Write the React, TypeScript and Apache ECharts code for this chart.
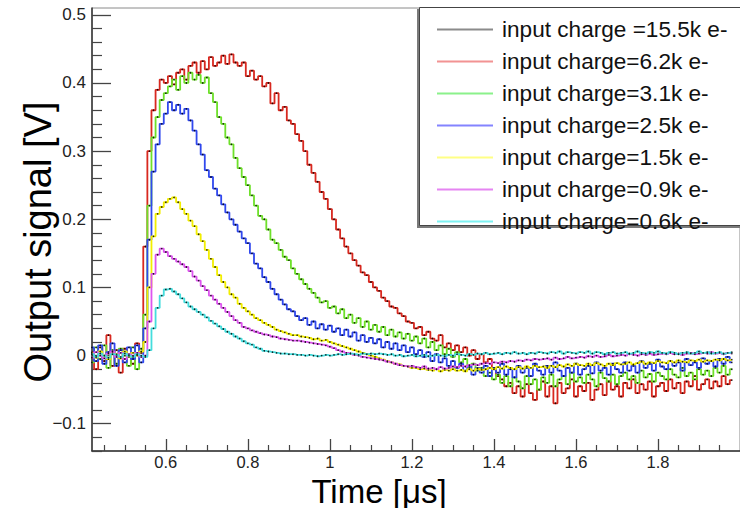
import React, { useEffect, useRef } from "react";
import * as echarts from "echarts";

// Sample times [µs]
const times = [
  0.42, 0.43, 0.44, 0.45, 0.46, 0.47, 0.48, 0.49, 0.5, 0.51,
  0.52, 0.53, 0.54, 0.55, 0.56, 0.57, 0.58, 0.59, 0.6, 0.61,
  0.62, 0.63, 0.64, 0.65, 0.66, 0.67, 0.68, 0.69, 0.7, 0.71,
  0.72, 0.73, 0.74, 0.75, 0.76, 0.77, 0.78, 0.79, 0.8, 0.81,
  0.82, 0.83, 0.84, 0.85, 0.86, 0.87, 0.88, 0.89, 0.9, 0.91,
  0.92, 0.93, 0.94, 0.95, 0.96, 0.97, 0.98, 0.99, 1.0, 1.01,
  1.02, 1.03, 1.04, 1.05, 1.06, 1.07, 1.08, 1.09, 1.1, 1.11,
  1.12, 1.13, 1.14, 1.15, 1.16, 1.17, 1.18, 1.19, 1.2, 1.21,
  1.22, 1.23, 1.24, 1.25, 1.26, 1.27, 1.28, 1.29, 1.3, 1.31,
  1.32, 1.33, 1.34, 1.35, 1.36, 1.37, 1.38, 1.39, 1.4, 1.41,
  1.42, 1.43, 1.44, 1.45, 1.46, 1.47, 1.48, 1.49, 1.5, 1.51,
  1.52, 1.53, 1.54, 1.55, 1.56, 1.57, 1.58, 1.59, 1.6, 1.61,
  1.62, 1.63, 1.64, 1.65, 1.66, 1.67, 1.68, 1.69, 1.7, 1.71,
  1.72, 1.73, 1.74, 1.75, 1.76, 1.77, 1.78, 1.79, 1.8, 1.81,
  1.82, 1.83, 1.84, 1.85, 1.86, 1.87, 1.88, 1.89, 1.9, 1.91,
  1.92, 1.93, 1.94, 1.95, 1.96, 1.97, 1.98,
];

const q15_5k: number[] = [];

const q6_2k = [
  0.005, -0.02, 0.012, -0.008, 0.03, -0.015, 0.008, -0.025, 0.01, 0.0,
  -0.012, 0.018, 0.004, 0.16, 0.30, 0.36, 0.39, 0.405, 0.40, 0.41,
  0.398, 0.415, 0.42, 0.405, 0.425, 0.43, 0.415, 0.432, 0.42, 0.438,
  0.425, 0.43, 0.44, 0.428, 0.442, 0.43, 0.425, 0.43, 0.41, 0.418,
  0.405, 0.41, 0.395, 0.40, 0.37, 0.385, 0.36, 0.365, 0.345, 0.34,
  0.325, 0.315, 0.30, 0.28, 0.268, 0.255, 0.24, 0.23, 0.215, 0.2,
  0.185, 0.172, 0.16, 0.15, 0.14, 0.132, 0.122, 0.118, 0.108, 0.1,
  0.095, 0.085, 0.08, 0.072, 0.07, 0.062, 0.058, 0.05, 0.048, 0.04,
  0.042, 0.03, 0.035, 0.025, 0.022, 0.03, 0.012, 0.018, 0.008, 0.015,
  0.005, 0.012, 0.0, 0.008, -0.005, 0.002, -0.01, -0.005, -0.02, -0.03,
  -0.035, -0.045, -0.04, -0.055, -0.045, -0.06, -0.042, -0.055, -0.065, -0.05,
  -0.038, -0.06, -0.045, -0.07, -0.04, -0.055, -0.048, -0.035, -0.06, -0.045,
  -0.052, -0.04, -0.065, -0.05, -0.042, -0.058, -0.038, -0.05, -0.045, -0.06,
  -0.04, -0.048, -0.035, -0.055, -0.042, -0.05, -0.038, -0.06, -0.045, -0.04,
  -0.052, -0.035, -0.048, -0.04, -0.055, -0.038, -0.045, -0.03, -0.05, -0.042,
  -0.035, -0.048, -0.038, -0.045, -0.03, -0.042, -0.036,
];

const q3_1k = [
  -0.01, 0.012, -0.005, 0.015, -0.018, 0.008, -0.012, 0.01, 0.0, -0.015,
  0.012, -0.02, 0.01, 0.06, 0.22, 0.32, 0.35, 0.375, 0.385, 0.395,
  0.405, 0.39, 0.41, 0.40, 0.415, 0.405, 0.412, 0.40, 0.408, 0.385,
  0.372, 0.35, 0.34, 0.32, 0.31, 0.29, 0.275, 0.262, 0.25, 0.235,
  0.22, 0.205, 0.2, 0.185, 0.17, 0.165, 0.155, 0.145, 0.14, 0.128,
  0.12, 0.112, 0.105, 0.098, 0.092, 0.085, 0.078, 0.08, 0.07, 0.072,
  0.062, 0.068, 0.055, 0.06, 0.048, 0.055, 0.042, 0.05, 0.038, 0.045,
  0.035, 0.042, 0.03, 0.038, 0.028, 0.034, 0.025, 0.032, 0.022, 0.028,
  0.018, 0.025, 0.012, 0.02, 0.008, 0.015, 0.002, 0.01, -0.002, 0.005,
  -0.01, -0.005, -0.018, -0.012, -0.022, -0.018, -0.03, -0.025, -0.035, -0.028,
  -0.04, -0.03, -0.045, -0.032, -0.038, -0.048, -0.03, -0.042, -0.035, -0.05,
  -0.032, -0.04, -0.028, -0.045, -0.035, -0.03, -0.042, -0.025, -0.038, -0.032,
  -0.04, -0.028, -0.035, -0.045, -0.025, -0.033, -0.038, -0.028, -0.042, -0.03,
  -0.025, -0.035, -0.03, -0.04, -0.022, -0.032, -0.027, -0.038, -0.025, -0.03,
  -0.035, -0.02, -0.028, -0.032, -0.018, -0.03, -0.025, -0.035, -0.02, -0.028,
  -0.022, -0.03, -0.018, -0.025, -0.015, -0.028, -0.02,
];

const q2_5k = [
  0.012, -0.008, 0.015, -0.012, 0.005, 0.018, -0.015, 0.008, -0.01, 0.012,
  -0.005, 0.015, -0.01, 0.04, 0.17, 0.27, 0.31, 0.34, 0.355, 0.372,
  0.36, 0.368, 0.355, 0.362, 0.345, 0.33, 0.31, 0.295, 0.272, 0.262,
  0.245, 0.235, 0.222, 0.21, 0.2, 0.192, 0.182, 0.172, 0.165, 0.15,
  0.135, 0.128, 0.115, 0.108, 0.098, 0.09, 0.082, 0.075, 0.068, 0.065,
  0.058, 0.052, 0.055, 0.045, 0.05, 0.04, 0.046, 0.038, 0.044, 0.035,
  0.04, 0.03, 0.038, 0.028, 0.034, 0.022, 0.03, 0.02, 0.026, 0.018,
  0.024, 0.012, 0.02, 0.01, 0.018, 0.008, 0.015, 0.005, 0.012, 0.002,
  0.008, -0.002, 0.005, -0.008, 0.002, -0.01, -0.004, -0.015, -0.008, -0.018,
  -0.012, -0.022, -0.015, -0.028, -0.018, -0.025, -0.015, -0.03, -0.018, -0.025,
  -0.012, -0.028, -0.02, -0.032, -0.015, -0.025, -0.018, -0.03, -0.012, -0.022,
  -0.028, -0.015, -0.025, -0.01, -0.022, -0.03, -0.018, -0.025, -0.012, -0.028,
  -0.02, -0.015, -0.026, -0.01, -0.022, -0.018, -0.028, -0.012, -0.02, -0.025,
  -0.01, -0.022, -0.015, -0.025, -0.008, -0.018, -0.012, -0.022, -0.006, -0.016,
  -0.02, -0.008, -0.015, -0.01, -0.022, -0.005, -0.014, -0.01, -0.018, -0.004,
  -0.012, -0.008, -0.016, -0.005, -0.012, -0.002, -0.01,
];

const q1_5k = [
  0.004, -0.003, 0.006, 0.0, -0.005, 0.005, 0.002, -0.004, 0.006, -0.002,
  0.004, 0.0, 0.006, 0.02, 0.1, 0.175, 0.208, 0.218, 0.225, 0.23,
  0.232, 0.225, 0.215, 0.208, 0.198, 0.19, 0.178, 0.168, 0.155, 0.142,
  0.13, 0.118, 0.108, 0.1, 0.09, 0.085, 0.076, 0.07, 0.065, 0.06,
  0.055, 0.052, 0.048, 0.045, 0.042, 0.038, 0.036, 0.034, 0.032, 0.03,
  0.03, 0.028, 0.027, 0.026, 0.024, 0.025, 0.022, 0.023, 0.02, 0.018,
  0.016, 0.014, 0.012, 0.01, 0.008, 0.006, 0.004, 0.002, 0.0, -0.002,
  -0.004, -0.006, -0.008, -0.01, -0.012, -0.013, -0.015, -0.016, -0.018, -0.018,
  -0.02, -0.019, -0.021, -0.022, -0.02, -0.023, -0.021, -0.022, -0.02, -0.022,
  -0.021, -0.023, -0.02, -0.022, -0.019, -0.021, -0.02, -0.018, -0.02, -0.017,
  -0.019, -0.016, -0.018, -0.02, -0.017, -0.019, -0.016, -0.018, -0.015, -0.017,
  -0.016, -0.018, -0.015, -0.017, -0.014, -0.016, -0.013, -0.015, -0.012, -0.014,
  -0.015, -0.012, -0.014, -0.011, -0.013, -0.015, -0.012, -0.014, -0.011, -0.013,
  -0.012, -0.01, -0.013, -0.011, -0.009, -0.012, -0.01, -0.011, -0.008, -0.01,
  -0.011, -0.008, -0.01, -0.007, -0.009, -0.01, -0.007, -0.008, -0.006, -0.009,
  -0.007, -0.008, -0.006, -0.007, -0.005, -0.007, -0.006,
];

const q0_9k = [
  -0.003, 0.005, 0.0, -0.004, 0.003, 0.006, -0.002, 0.004, -0.005, 0.002,
  0.0, 0.004, -0.002, 0.0, 0.05, 0.12, 0.148, 0.157, 0.152, 0.146,
  0.142, 0.138, 0.134, 0.13, 0.124, 0.116, 0.11, 0.102, 0.096, 0.088,
  0.082, 0.076, 0.07, 0.064, 0.058, 0.052, 0.048, 0.042, 0.04, 0.037,
  0.035, 0.033, 0.031, 0.03, 0.028, 0.027, 0.025, 0.024, 0.023, 0.022,
  0.022, 0.021, 0.02, 0.019, 0.018, 0.017, 0.016, 0.015, 0.013, 0.011,
  0.008, 0.006, 0.004, 0.003, 0.001, 0.0, -0.002, -0.003, -0.004, -0.005,
  -0.006, -0.007, -0.009, -0.01, -0.012, -0.014, -0.015, -0.016, -0.015, -0.017,
  -0.018, -0.016, -0.019, -0.018, -0.02, -0.017, -0.019, -0.018, -0.016, -0.017,
  -0.015, -0.016, -0.014, -0.013, -0.014, -0.012, -0.011, -0.012, -0.01, -0.011,
  -0.009, -0.01, -0.008, -0.009, -0.007, -0.008, -0.006, -0.007, -0.005, -0.006,
  -0.005, -0.004, -0.006, -0.003, -0.005, -0.004, -0.002, -0.004, -0.003, -0.002,
  -0.003, -0.001, -0.002, 0.0, -0.002, -0.001, 0.001, -0.001, 0.0, 0.001,
  0.0, 0.002, 0.001, 0.0, 0.002, 0.001, 0.003, 0.001, 0.002, 0.003,
  0.002, 0.004, 0.002, 0.003, 0.001, 0.003, 0.004, 0.002, 0.003, 0.004,
  0.003, 0.005, 0.003, 0.004, 0.002, 0.004, 0.003,
];

const q0_6k = [
  0.002, -0.002, 0.003, 0.0, -0.003, 0.002, 0.001, -0.002, 0.003, 0.0,
  -0.002, 0.002, 0.0, -0.002, 0.008, 0.04, 0.07, 0.088, 0.097, 0.098,
  0.094, 0.09, 0.084, 0.078, 0.072, 0.068, 0.064, 0.06, 0.056, 0.051,
  0.047, 0.043, 0.039, 0.035, 0.032, 0.028, 0.025, 0.021, 0.018, 0.016,
  0.012, 0.01, 0.007, 0.006, 0.005, 0.004, 0.003, 0.003, 0.002, 0.002,
  0.001, 0.001, 0.0, 0.001, 0.0, -0.001, 0.0, 0.001, 0.0, 0.001,
  0.002, 0.001, 0.002, 0.003, 0.002, 0.001, 0.003, 0.002, 0.003, 0.002,
  0.003, 0.002, 0.001, 0.002, 0.0, 0.001, -0.001, 0.0, 0.001, -0.001,
  0.0, 0.001, -0.001, 0.0, 0.001, 0.0, -0.001, 0.001, 0.0, 0.002,
  0.001, 0.0, 0.002, 0.001, 0.003, 0.002, 0.004, 0.002, 0.003, 0.004,
  0.002, 0.004, 0.003, 0.005, 0.003, 0.004, 0.002, 0.004, 0.003, 0.005,
  0.004, 0.003, 0.005, 0.004, 0.006, 0.003, 0.005, 0.004, 0.003, 0.005,
  0.004, 0.006, 0.003, 0.005, 0.004, 0.002, 0.004, 0.005, 0.003, 0.004,
  0.005, 0.003, 0.004, 0.006, 0.004, 0.003, 0.005, 0.004, 0.006, 0.004,
  0.003, 0.005, 0.004, 0.002, 0.004, 0.005, 0.003, 0.004, 0.006, 0.004,
  0.005, 0.003, 0.004, 0.005, 0.003, 0.004, 0.005,
];

const seriesNames = [
  "input charge =15.5k e-",
  "input charge=6.2k e-",
  "input charge=3.1k e-",
  "input charge=2.5k e-",
  "input charge=1.5k e-",
  "input charge=0.9k e-",
  "input charge=0.6k e-",
];
const seriesValues = [q15_5k, q6_2k, q3_1k, q2_5k, q1_5k, q0_9k, q0_6k];
const lineColors = ["#333333", "#d8281f", "#6ee02a", "#3048ee", "#f2ee00", "#dd55ee", "#44dddd"];
const legendColors = ["#777777", "#f08080", "#77ee77", "#6f6fff", "#ffff70", "#e070f0", "#66f0f0"];

const xMajorTicks = [0.6, 0.8, 1.0, 1.2, 1.4, 1.6, 1.8];
const xMinorTicks = [
  0.45, 0.5, 0.55, 0.65, 0.7, 0.75, 0.85, 0.9, 0.95, 1.05, 1.1, 1.15,
  1.25, 1.3, 1.35, 1.45, 1.5, 1.55, 1.65, 1.7, 1.75, 1.85, 1.9, 1.95,
];
const yMajorTicks = [-0.1, 0, 0.1, 0.2, 0.3, 0.4, 0.5];
const yMinorTicks = [
  -0.14, -0.12, -0.08, -0.06, -0.04, -0.02, 0.02, 0.04, 0.06, 0.08,
  0.12, 0.14, 0.16, 0.18, 0.22, 0.24, 0.26, 0.28, 0.32, 0.34, 0.36, 0.38,
  0.42, 0.44, 0.46, 0.48,
];

const FONT = "'Liberation Sans', Arial, Helvetica, sans-serif";

const fmt = (v: number) => {
  const n = Number(v.toFixed(2));
  if (n === 0) return "0";
  return n < 0 ? "\u2212" + String(Math.abs(n)) : String(n);
};

export default function App() {
  const ref = useRef<HTMLDivElement>(null);
  useEffect(() => {
    if (!ref.current) return;
    const chart = echarts.init(ref.current, null, { renderer: "svg" });
    const axisLine = { show: true, onZero: false, lineStyle: { color: "#333", width: 1.5 } };
    const option = {
      animation: false,
      backgroundColor: "#ffffff",
      grid: {
        left: 92,
        top: 8,
        right: -7.7,
        bottom: 57,
        show: true,
        borderColor: "#8a8a8a",
        borderWidth: 1,
        backgroundColor: "transparent",
      },
      xAxis: [
        {
          type: "value",
          min: 0.42,
          max: 2.0,
          position: "bottom",
          axisLine,
          splitLine: { show: false },
          axisTick: {
            show: true,
            inside: true,
            length: 12,
            customValues: xMajorTicks,
            lineStyle: { color: "#444", width: 1.3 },
          },
          axisLabel: {
            customValues: xMajorTicks,
            formatter: fmt,
            fontFamily: FONT,
            fontSize: 16.5,
            lineHeight: 16,
            color: "#222",
            margin: 3,
          },
        },
        {
          type: "value",
          min: 0.42,
          max: 2.0,
          position: "bottom",
          axisLine: { show: false, onZero: false },
          splitLine: { show: false },
          axisTick: {
            show: true,
            inside: true,
            length: 6,
            customValues: xMinorTicks,
            lineStyle: { color: "#444", width: 1.2 },
          },
          axisLabel: { show: false },
        },
      ],
      yAxis: [
        {
          type: "value",
          min: -0.14,
          max: 0.51,
          position: "left",
          axisLine,
          splitLine: { show: false },
          axisTick: {
            show: true,
            inside: true,
            length: 19,
            customValues: yMajorTicks,
            lineStyle: { color: "#444", width: 1.3 },
          },
          axisLabel: {
            customValues: yMajorTicks,
            formatter: fmt,
            fontFamily: FONT,
            fontSize: 17,
            color: "#222",
            margin: 6,
          },
        },
        {
          type: "value",
          min: -0.14,
          max: 0.51,
          position: "left",
          axisLine: { show: false, onZero: false },
          splitLine: { show: false },
          axisTick: {
            show: true,
            inside: true,
            length: 10,
            customValues: yMinorTicks,
            lineStyle: { color: "#444", width: 1.2 },
          },
          axisLabel: { show: false },
        },
      ],
      legend: {
        orient: "vertical",
        left: 432,
        top: 13,
        z: 30,
        selectedMode: false,
        itemWidth: 56,
        itemHeight: 2,
        itemGap: 9,
        icon: "rect",
        textStyle: {
          fontFamily: FONT,
          fontSize: 22.6,
          lineHeight: 23,
          color: "#111",
          padding: [0, 0, 0, 4],
        },
        data: seriesNames.map((name, i) => ({
          name,
          icon: "rect",
          itemStyle: { color: legendColors[i] },
        })),
      },
      graphic: [
        {
          type: "rect",
          z: 20,
          shape: { x: 417, y: 9, width: 340, height: 219 },
          style: { fill: "#7a7a7a" },
        },
        {
          type: "rect",
          z: 21,
          shape: { x: 419.5, y: 7.5, width: 340, height: 218 },
          style: { fill: "#ffffff", stroke: "#444", lineWidth: 1 },
        },
        {
          type: "text",
          z: 25,
          x: 38,
          y: 242,
          rotation: Math.PI / 2,
          style: {
            text: "Output signal [V]",
            fontFamily: FONT,
            fontSize: 38,
            lineHeight: 38,
            fill: "#000",
            align: "center",
            verticalAlign: "middle",
          },
        },
        {
          type: "text",
          z: 25,
          x: 379,
          y: 491,
          style: {
            text: "Time [\u03bcs]",
            fontFamily: FONT,
            fontSize: 33,
            lineHeight: 33,
            fill: "#000",
            align: "center",
            verticalAlign: "middle",
          },
        },
      ],
      series: seriesNames.map((name, i) => ({
        name,
        type: "line",
        xAxisIndex: 0,
        yAxisIndex: 0,
        step: "middle",
        data: seriesValues[i].map((v, k) => [times[k], v]),
        symbol: "circle",
        symbolSize: 1.6,
        showSymbol: true,
        showAllSymbol: true,
        itemStyle: { color: "#000", opacity: 0.85 },
        lineStyle: { color: lineColors[i], width: 1.8 },
        emphasis: { disabled: true },
        silent: true,
        z: 2 + i * 0.01,
        clip: true,
      })),
    };
    chart.setOption(option as any);
    return () => chart.dispose();
  }, []);
  return (
    <div
      ref={ref}
      style={{ position: "fixed", left: 0, top: 0, width: 740, height: 508, background: "#fff" }}
    />
  );
}
